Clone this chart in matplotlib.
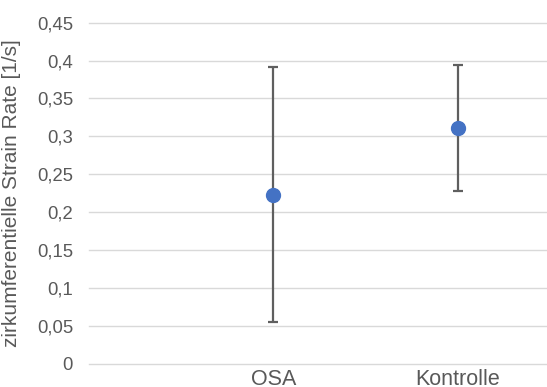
import matplotlib
matplotlib.use("Agg")
import matplotlib.pyplot as plt
from matplotlib.ticker import FuncFormatter

categories = ["OSA", "Kontrolle"]
means = [0.223, 0.311]
errors = [0.168, 0.083]
yticks = [0, 0.05, 0.1, 0.15, 0.2, 0.25, 0.3, 0.35, 0.4, 0.45]

plt.rcParams['font.family'] = ['Liberation Sans', 'DejaVu Sans']
fig = plt.figure(figsize=(5.47, 3.87), dpi=100)
ax = fig.add_axes([89/547, 1-363.5/387, 1-89/547, (363.5-22.7)/387])

xpos = [1, 2]
ax.errorbar(xpos, means, yerr=errors, fmt='o', color='#4472C4', markersize=10,
            ecolor='#5f5f5f', elinewidth=1.6, capsize=3.8, capthick=1.6, zorder=3)

ax.set_xlim(0, 2.485)
ax.set_ylim(0, 0.45)
ax.set_yticks(yticks)
ax.yaxis.set_major_formatter(FuncFormatter(lambda v, p: ('%g' % round(v, 2)).replace('.', ',')))
ax.set_xticks(xpos)
ax.set_xticklabels(categories)
ax.yaxis.grid(True, color='#d9d9d9', linewidth=1.0)
for g in ax.get_ygridlines():
    g.set_clip_on(False)
ax.set_axisbelow(True)
for s in ax.spines.values():
    s.set_visible(False)
ax.tick_params(axis='y', length=0, pad=11.5, labelsize=13.3, labelcolor='#595959')
ax.tick_params(axis='x', length=0, pad=4, labelsize=15.5, labelcolor='#595959')
ax.set_ylabel('zirkumferentielle Strain Rate [1/s]', fontsize=15, color='#595959')
ax.yaxis.set_label_coords(-(89-21)/458, 0.5)

fig.savefig('out.png', dpi=100)
